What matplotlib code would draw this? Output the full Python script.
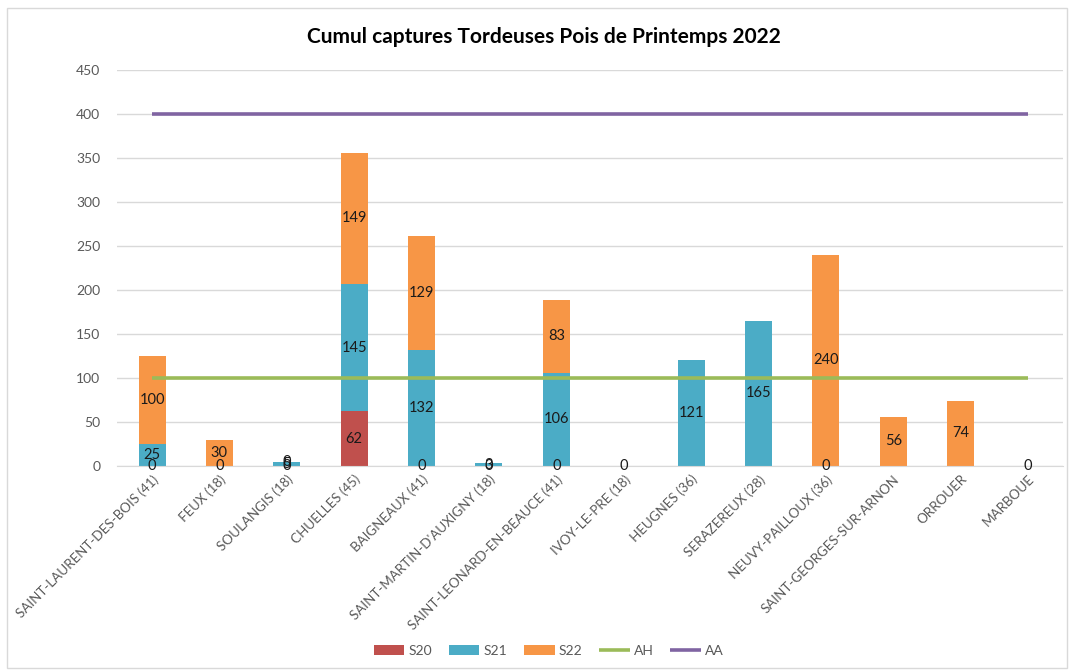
import matplotlib
matplotlib.use("Agg")
import matplotlib.pyplot as plt
import numpy as np
from matplotlib.patches import Rectangle

plt.rcParams['font.family'] = ['Lato', 'DejaVu Sans']

categories = ["SAINT-LAURENT-DES-BOIS (41)", "FEUX (18)", "SOULANGIS (18)", "CHUELLES (45)",
              "BAIGNEAUX (41)", "SAINT-MARTIN-D'AUXIGNY (18)", "SAINT-LEONARD-EN-BEAUCE (41)",
              "IVOY-LE-PRE (18)", "HEUGNES (36)", "SERAZEREUX (28)", "NEUVY-PAILLOUX (36)",
              "SAINT-GEORGES-SUR-ARNON", "ORROUER", "MARBOUE"]
N = None
s20 = [0, 0, 0, 62, 0, 0, 0, 0, N, N, 0, N, N, 0]
s21 = [25, N, 5, 145, 132, 3, 106, N, 121, 165, N, N, N, N]
s22 = [100, 30, 0, 149, 129, N, 83, N, N, N, 240, 56, 74, N]
ah = [100] * len(categories)
aa = [400] * len(categories)
yticks = [0, 50, 100, 150, 200, 250, 300, 350, 400, 450]

colors = {"S20": "#C0504D", "S21": "#4BACC6", "S22": "#F79646", "AH": "#9BBB59", "AA": "#8064A2"}

fig = plt.figure(figsize=(10.7, 6.7), dpi=100)
ax = fig.add_axes([117 / 1070, 1 - 466 / 670, (1063 - 117) / 1070, (466 - 70) / 670])

x = np.arange(len(categories))
bottom = np.zeros(len(categories))
w = 0.40
for name, vals in (("S20", s20), ("S21", s21), ("S22", s22)):
    v = np.array([np.nan if a is None else a for a in vals], dtype=float)
    h = np.nan_to_num(v)
    ax.bar(x, h, w, bottom=bottom, color=colors[name], label=name, zorder=2)
    for i in range(len(x)):
        if not np.isnan(v[i]):
            ax.text(x[i], bottom[i] + h[i] / 2, f"{int(v[i])}", ha="center", va="center",
                    fontsize=10.5, color="#1a1a1a", zorder=4)
    bottom = bottom + h

ax.plot(x, ah, color=colors["AH"], lw=2.6, label="AH", zorder=3, solid_capstyle="butt")
ax.plot(x, aa, color=colors["AA"], lw=2.6, label="AA", zorder=3, solid_capstyle="butt")

ax.set_xlim(-0.52, len(categories) - 0.48)
ax.set_ylim(0, 450)
ax.set_yticks(yticks)
ax.set_yticklabels([str(t) for t in yticks], fontsize=10, color="#595959")
ax.yaxis.grid(True, color="#D9D9D9", lw=1, zorder=0)
ax.set_axisbelow(True)
for s in ("top", "right", "left"):
    ax.spines[s].set_visible(False)
ax.spines["bottom"].set_color("#D9D9D9")
ax.tick_params(axis="y", length=0, pad=12)
ax.tick_params(axis="x", length=0, pad=5)
ax.set_xticks(x)
ax.set_xticklabels(categories, rotation=45, ha="right", rotation_mode="anchor",
                   fontsize=9.6, color="#595959")

fig.text(544 / 1070, 1 - 37 / 670, "Cumul captures Tordeuses Pois de Printemps 2022",
         ha="center", va="center", fontsize=15, fontweight="bold", color="#000000")

handles, labels = ax.get_legend_handles_labels()
order = ["S20", "S21", "S22", "AH", "AA"]
hmap = dict(zip(labels, handles))
leg = fig.legend([hmap[k] for k in order], order, loc="center", bbox_to_anchor=(0.513, 1 - 651 / 670),
                 ncol=5, frameon=False, fontsize=10, handlelength=2.2, columnspacing=1.2,
                 handletextpad=0.3)
for t in leg.get_texts():
    t.set_color("#595959")

fig.patches.append(Rectangle((7 / 1070, 2 / 670), 1060 / 1070, 660 / 670, transform=fig.transFigure,
                             fill=False, edgecolor="#D9D9D9", lw=1))

fig.savefig("out.png", dpi=100)
